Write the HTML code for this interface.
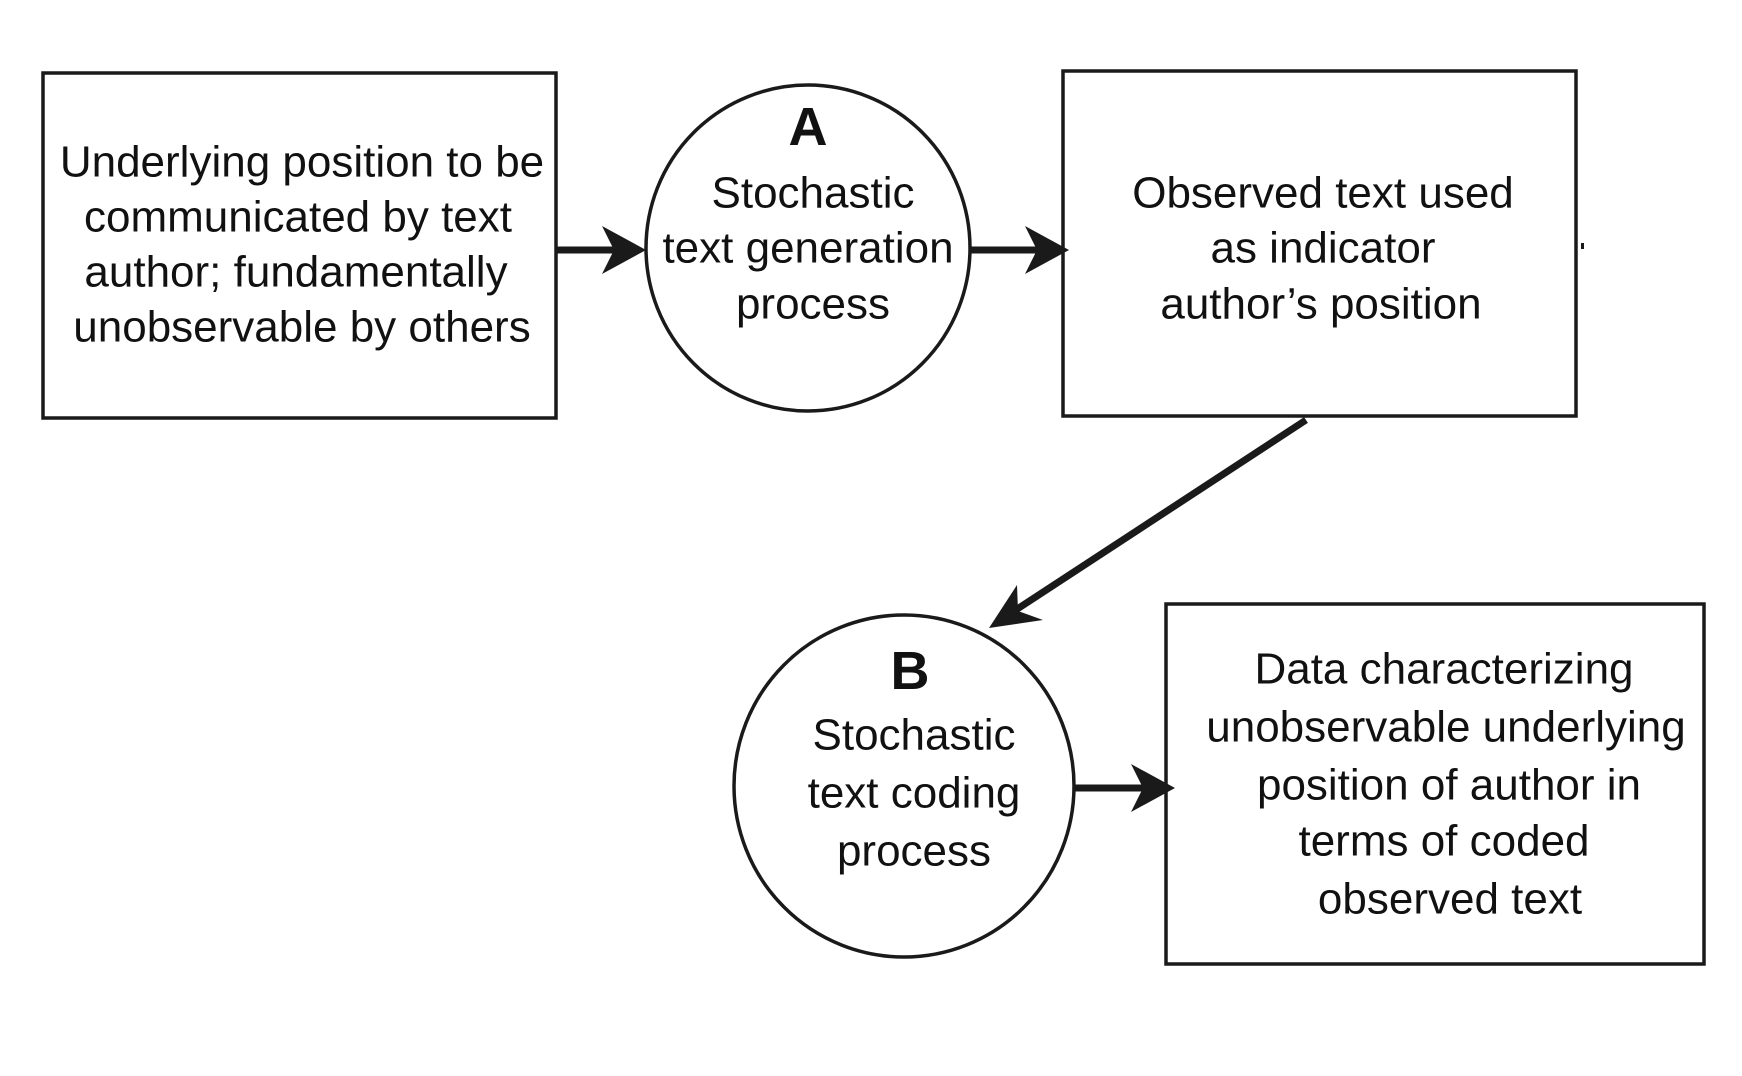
<!DOCTYPE html>
<html><head><meta charset="utf-8"><style>
html,body{margin:0;padding:0;background:#fff}
svg{display:block}
text{font-family:"Liberation Sans",sans-serif;font-size:44px;fill:#111;text-anchor:middle;dominant-baseline:central}
.l{font-weight:bold;font-size:54px}
</style></head><body>
<svg width="1742" height="1076" viewBox="0 0 1742 1076">
<g fill="none" stroke="#1a1a1a" stroke-width="3.5">
<rect x="43" y="73" width="513" height="345"/>
<ellipse cx="808" cy="248" rx="162" ry="163"/>
<rect x="1063" y="71" width="513" height="345"/>
<ellipse cx="904" cy="786" rx="170" ry="171"/>
<rect x="1166" y="604" width="538" height="360"/>
</g>
<g stroke="#1a1a1a" stroke-width="7" fill="none">
<line x1="556" y1="250" x2="628" y2="250"/>
<line x1="970" y1="250" x2="1052" y2="250"/>
<line x1="1306" y1="420" x2="1002" y2="619"/>
<line x1="1074" y1="788" x2="1157" y2="788"/>
</g>
<g fill="#1a1a1a">
<polygon points="646,250 602,226 614,250 602,274"/>
<polygon points="1069,250 1025,226 1037,250 1025,274"/>
<polygon points="989,628 1017,585 1018,611 1043,620"/>
<polygon points="1175,788 1131,764 1143,788 1131,812"/>
<rect x="1581" y="243" width="3" height="6"/>
</g>
<text x="302" y="162">Underlying position to be</text>
<text x="298" y="217">communicated by text</text>
<text x="296" y="272">author; fundamentally</text>
<text x="302" y="327">unobservable by others</text>
<text class="l" x="808" y="127">A</text>
<text x="813" y="193">Stochastic</text>
<text x="808" y="248">text generation</text>
<text x="813" y="304">process</text>
<text x="1323" y="193">Observed text used</text>
<text x="1323" y="248">as indicator</text>
<text x="1321" y="304">author’s position</text>
<text class="l" x="910" y="671">B</text>
<text x="914" y="735">Stochastic</text>
<text x="914" y="793">text coding</text>
<text x="914" y="851">process</text>
<text x="1444" y="669">Data characterizing</text>
<text x="1446" y="727">unobservable underlying</text>
<text x="1449" y="785">position of author in</text>
<text x="1444" y="841">terms of coded</text>
<text x="1450" y="899">observed text</text>
</svg>
</body></html>
